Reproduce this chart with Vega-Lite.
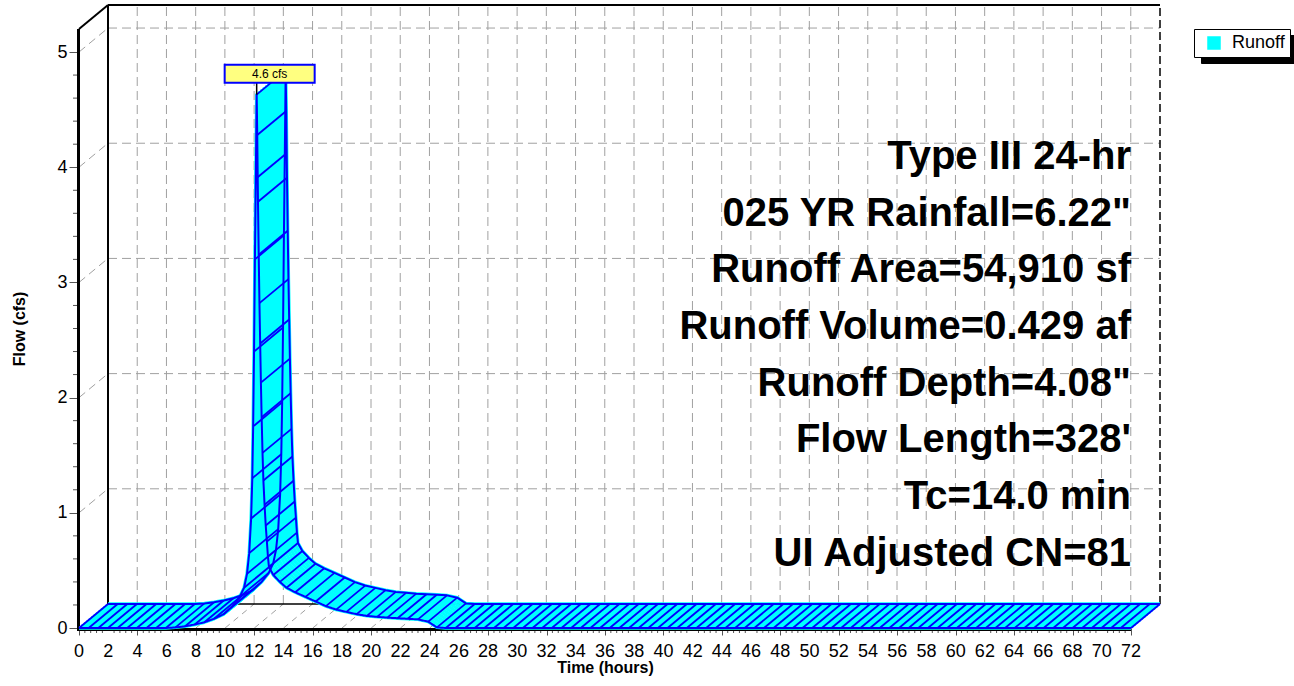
{
  "$schema": "https://vega.github.io/schema/vega-lite/v6.json",
  "width": 1052,
  "height": 599,
  "autosize": "none",
  "padding": {"left": 79, "top": 29, "right": 163, "bottom": 58},
  "background": "white",
  "config": {
    "font": "Liberation Sans",
    "view": {"stroke": null},
    "axis": {"grid": false, "domain": false, "labelColor": "black", "titleColor": "black", "tickColor": "#555555", "labelFlush": false, "titleFontWeight": "bold", "titleFontSize": 16, "labelFont": "Liberation Sans", "titleFont": "Liberation Sans"},
    "axisX": {"tickSize": 7, "titlePadding": 24},
    "axisY": {"labelFontSize": 18, "tickSize": 10, "labelPadding": 2, "titlePadding": 29},
    "legend": {"labelFontSize": 18, "labelColor": "black", "labelFont": "Liberation Sans", "padding": 5, "symbolOffset": 6, "symbolSize": 144, "labelOffset": 9, "symbolType": "square", "symbolStrokeWidth": 1.5}
  },
  "datasets": {
    "flow": [
      {"t":0,"q":0},{"t":0.66,"q":0},{"t":1.32,"q":0},{"t":1.98,"q":0},{"t":2.64,"q":0},{"t":3.3,"q":0},{"t":3.96,"q":0},{"t":4.62,"q":0},{"t":5.28,"q":0},{"t":5.94,"q":0},
      {"t":6.6,"q":0.005},{"t":7.26,"q":0.015},{"t":7.92,"q":0.03},{"t":8.58,"q":0.05},{"t":9.24,"q":0.08},{"t":9.9,"q":0.12},{"t":10.5,"q":0.19},{"t":11.0,"q":0.27},{"t":11.3,"q":0.35},{"t":11.5,"q":0.47},
      {"t":11.65,"q":0.65},{"t":11.78,"q":0.95},{"t":11.86,"q":1.3},{"t":11.92,"q":1.75},{"t":11.98,"q":2.4},{"t":12.04,"q":3.2},{"t":12.1,"q":3.9},{"t":12.16,"q":4.63},
      {"t":12.2,"q":4.28},{"t":12.25,"q":3.7},{"t":12.3,"q":3.24},{"t":12.35,"q":2.82},{"t":12.4,"q":2.47},{"t":12.45,"q":2.13},{"t":12.5,"q":1.83},{"t":12.56,"q":1.52},{"t":12.62,"q":1.28},{"t":12.7,"q":1.07},
      {"t":12.78,"q":0.89},{"t":12.86,"q":0.75},{"t":12.93,"q":0.62},{"t":13.0,"q":0.53},{"t":13.3,"q":0.46},{"t":13.75,"q":0.4},{"t":14.2,"q":0.35},{"t":14.8,"q":0.31},{"t":15.5,"q":0.27},{"t":16.2,"q":0.23},
      {"t":16.9,"q":0.19},{"t":17.6,"q":0.16},{"t":18.3,"q":0.14},{"t":19.0,"q":0.12},{"t":19.7,"q":0.105},{"t":20.4,"q":0.097},{"t":21.1,"q":0.09},{"t":21.8,"q":0.085},{"t":22.5,"q":0.08},{"t":23.2,"q":0.075},
      {"t":23.9,"q":0.055},{"t":24.5,"q":0.005},{"t":25.1,"q":0},{"t":25.76,"q":0},{"t":26.42,"q":0},{"t":27.08,"q":0},{"t":27.74,"q":0},{"t":28.4,"q":0},{"t":29.06,"q":0},{"t":29.72,"q":0},
      {"t":30.38,"q":0},{"t":31.04,"q":0},{"t":31.7,"q":0},{"t":32.36,"q":0},{"t":33.02,"q":0},{"t":33.68,"q":0},{"t":34.34,"q":0},{"t":35.0,"q":0},{"t":35.66,"q":0},{"t":36.32,"q":0},
      {"t":36.98,"q":0},{"t":37.64,"q":0},{"t":38.3,"q":0},{"t":38.96,"q":0},{"t":39.62,"q":0},{"t":40.28,"q":0},{"t":40.94,"q":0},{"t":41.6,"q":0},{"t":42.26,"q":0},{"t":42.92,"q":0},
      {"t":43.58,"q":0},{"t":44.24,"q":0},{"t":44.9,"q":0},{"t":45.56,"q":0},{"t":46.22,"q":0},{"t":46.88,"q":0},{"t":47.54,"q":0},{"t":48.2,"q":0},{"t":48.86,"q":0},{"t":49.52,"q":0},
      {"t":50.18,"q":0},{"t":50.84,"q":0},{"t":51.5,"q":0},{"t":52.16,"q":0},{"t":52.82,"q":0},{"t":53.48,"q":0},{"t":54.14,"q":0},{"t":54.8,"q":0},{"t":55.46,"q":0},{"t":56.12,"q":0},
      {"t":56.78,"q":0},{"t":57.44,"q":0},{"t":58.1,"q":0},{"t":58.76,"q":0},{"t":59.42,"q":0},{"t":60.08,"q":0},{"t":60.74,"q":0},{"t":61.4,"q":0},{"t":62.06,"q":0},{"t":62.72,"q":0},
      {"t":63.38,"q":0},{"t":64.04,"q":0},{"t":64.7,"q":0},{"t":65.36,"q":0},{"t":66.02,"q":0},{"t":66.68,"q":0},{"t":67.34,"q":0},{"t":68.0,"q":0},{"t":68.66,"q":0},{"t":69.32,"q":0},
      {"t":69.98,"q":0},{"t":70.64,"q":0},{"t":71.3,"q":0},{"t":72,"q":0}
    ],
    "xgrid": [{"t":2},{"t":4},{"t":6},{"t":8},{"t":10},{"t":12},{"t":14},{"t":16},{"t":18},{"t":20},{"t":22},{"t":24},{"t":26},{"t":28},{"t":30},{"t":32},{"t":34},{"t":36},{"t":38},{"t":40},{"t":42},{"t":44},{"t":46},{"t":48},{"t":50},{"t":52},{"t":54},{"t":56},{"t":58},{"t":60},{"t":62},{"t":64},{"t":66},{"t":68},{"t":70}],
    "xlabels": [{"t":0},{"t":2},{"t":4},{"t":6},{"t":8},{"t":10},{"t":12},{"t":14},{"t":16},{"t":18},{"t":20},{"t":22},{"t":24},{"t":26},{"t":28},{"t":30},{"t":32},{"t":34},{"t":36},{"t":38},{"t":40},{"t":42},{"t":44},{"t":46},{"t":48},{"t":50},{"t":52},{"t":54},{"t":56},{"t":58},{"t":60},{"t":62},{"t":64},{"t":66},{"t":68},{"t":70},{"t":72}],
    "xminor": [
      {"t":0.4},{"t":0.8},{"t":1.2},{"t":1.6},{"t":2.4},{"t":2.8},{"t":3.2},{"t":3.6},{"t":4.4},{"t":4.8},{"t":5.2},{"t":5.6},{"t":6.4},{"t":6.8},{"t":7.2},{"t":7.6},{"t":8.4},{"t":8.8},{"t":9.2},{"t":9.6},
      {"t":10.4},{"t":10.8},{"t":11.2},{"t":11.6},{"t":12.4},{"t":12.8},{"t":13.2},{"t":13.6},{"t":14.4},{"t":14.8},{"t":15.2},{"t":15.6},{"t":16.4},{"t":16.8},{"t":17.2},{"t":17.6},{"t":18.4},{"t":18.8},{"t":19.2},{"t":19.6},
      {"t":20.4},{"t":20.8},{"t":21.2},{"t":21.6},{"t":22.4},{"t":22.8},{"t":23.2},{"t":23.6},{"t":24.4},{"t":24.8},{"t":25.2},{"t":25.6},{"t":26.4},{"t":26.8},{"t":27.2},{"t":27.6},{"t":28.4},{"t":28.8},{"t":29.2},{"t":29.6},
      {"t":30.4},{"t":30.8},{"t":31.2},{"t":31.6},{"t":32.4},{"t":32.8},{"t":33.2},{"t":33.6},{"t":34.4},{"t":34.8},{"t":35.2},{"t":35.6},{"t":36.4},{"t":36.8},{"t":37.2},{"t":37.6},{"t":38.4},{"t":38.8},{"t":39.2},{"t":39.6},
      {"t":40.4},{"t":40.8},{"t":41.2},{"t":41.6},{"t":42.4},{"t":42.8},{"t":43.2},{"t":43.6},{"t":44.4},{"t":44.8},{"t":45.2},{"t":45.6},{"t":46.4},{"t":46.8},{"t":47.2},{"t":47.6},{"t":48.4},{"t":48.8},{"t":49.2},{"t":49.6},
      {"t":50.4},{"t":50.8},{"t":51.2},{"t":51.6},{"t":52.4},{"t":52.8},{"t":53.2},{"t":53.6},{"t":54.4},{"t":54.8},{"t":55.2},{"t":55.6},{"t":56.4},{"t":56.8},{"t":57.2},{"t":57.6},{"t":58.4},{"t":58.8},{"t":59.2},{"t":59.6},
      {"t":60.4},{"t":60.8},{"t":61.2},{"t":61.6},{"t":62.4},{"t":62.8},{"t":63.2},{"t":63.6},{"t":64.4},{"t":64.8},{"t":65.2},{"t":65.6},{"t":66.4},{"t":66.8},{"t":67.2},{"t":67.6},{"t":68.4},{"t":68.8},{"t":69.2},{"t":69.6},
      {"t":70.4},{"t":70.8},{"t":71.2},{"t":71.6}
    ],
    "yminor": [{"q":0.2},{"q":0.4},{"q":0.6},{"q":0.8},{"q":1.2},{"q":1.4},{"q":1.6},{"q":1.8},{"q":2.2},{"q":2.4},{"q":2.6},{"q":2.8},{"q":3.2},{"q":3.4},{"q":3.6},{"q":3.8},{"q":4.2},{"q":4.4},{"q":4.6},{"q":4.8}],
    "ygrid": [{"q":1},{"q":2},{"q":3},{"q":4},{"q":5}],
    "peak": [{"t":12.16,"q":4.63,"label":"4.6 cfs"}],
    "notes": [
      {"label": "Type III 24-hr\n025 YR Rainfall=6.22\"\nRunoff Area=54,910 sf\nRunoff Volume=0.429 af\nRunoff Depth=4.08\"\nFlow Length=328'\nTc=14.0 min\nUI Adjusted CN=81"}
    ]
  },
  "layer": [
    {
      "data": {"name": "xgrid"},
      "mark": {"type": "rule", "color": "#A0A0A0", "strokeWidth": 1, "strokeDash": [9, 5], "xOffset": 29, "yOffset": -24, "y2Offset": -24},
      "encoding": {
        "x": {"field": "t", "type": "quantitative", "scale": {"domain": [0, 72], "nice": false, "zero": false},
          "axis": {"orient": "bottom", "values": [0,2,4,6,8,10,12,14,16,18,20,22,24,26,28,30,32,34,36,38,40,42,44,46,48,50,52,54,56,58,60,62,64,66,68,70,72], "labels": false, "title": "Time  (hours)"}},
        "y": {"datum": 0, "type": "quantitative", "scale": {"domain": [0, 5.2], "nice": false, "zero": false},
          "axis": {"orient": "left", "values": [0,1,2,3,4,5], "format": "d", "title": "Flow  (cfs)"}},
        "y2": {"datum": 5.2}
      }
    },
    {
      "data": {"name": "ygrid"},
      "mark": {"type": "rule", "color": "#A0A0A0", "strokeWidth": 1, "strokeDash": [9, 5], "xOffset": 29, "x2Offset": 29, "yOffset": -24},
      "encoding": {"x": {"datum": 0, "type": "quantitative"}, "x2": {"datum": 72}, "y": {"field": "q", "type": "quantitative"}}
    },
    {
      "data": {"name": "ygrid"},
      "mark": {"type": "rule", "color": "#A0A0A0", "strokeWidth": 1, "strokeDash": [8, 5], "x2Offset": 29, "y2Offset": -24},
      "encoding": {"x": {"datum": 0, "type": "quantitative"}, "x2": {"datum": 0}, "y": {"field": "q", "type": "quantitative"}, "y2": {"field": "q"}}
    },
    {
      "data": {"name": "xgrid"},
      "mark": {"type": "rule", "color": "#A0A0A0", "strokeWidth": 1, "strokeDash": [6, 5], "x2Offset": 29, "y2Offset": -24},
      "encoding": {"x": {"field": "t", "type": "quantitative"}, "x2": {"field": "t"}, "y": {"datum": 0, "type": "quantitative"}, "y2": {"datum": 0}}
    },
    {
      "data": {"name": "xminor"},
      "mark": {"type": "rule", "color": "#555555", "strokeWidth": 1, "y2Offset": 5},
      "encoding": {"x": {"field": "t", "type": "quantitative"}, "y": {"datum": 0, "type": "quantitative"}, "y2": {"datum": 0}}
    },
    {
      "data": {"name": "yminor"},
      "mark": {"type": "rule", "color": "#555555", "strokeWidth": 1, "x2Offset": -6},
      "encoding": {"x": {"datum": 0, "type": "quantitative"}, "x2": {"datum": 0}, "y": {"field": "q", "type": "quantitative"}}
    },
    {
      "data": {"name": "xlabels"},
      "mark": {"type": "text", "fontSize": 18, "color": "black", "align": "center", "baseline": "alphabetic", "yOffset": 29},
      "encoding": {"x": {"field": "t", "type": "quantitative"}, "y": {"datum": 0, "type": "quantitative"}, "text": {"field": "t", "type": "quantitative", "format": "d"}}
    },
    {
      "data": {"name": "peak"},
      "mark": {"type": "rule", "color": "black", "strokeWidth": 3, "yOffset": 1.5, "y2Offset": 1.5},
      "encoding": {"x": {"datum": 0, "type": "quantitative"}, "x2": {"datum": 72}, "y": {"datum": 0, "type": "quantitative"}}
    },
    {
      "data": {"name": "peak"},
      "mark": {"type": "rule", "color": "black", "strokeWidth": 3, "xOffset": -0.5, "yOffset": 3},
      "encoding": {"x": {"datum": 0, "type": "quantitative"}, "y": {"datum": 0, "type": "quantitative"}, "y2": {"datum": 5.2}}
    },
    {
      "data": {"name": "peak"},
      "mark": {"type": "rule", "color": "black", "strokeWidth": 2, "xOffset": 29, "yOffset": -24, "y2Offset": -24},
      "encoding": {"x": {"datum": 0, "type": "quantitative"}, "y": {"datum": 0, "type": "quantitative"}, "y2": {"datum": 5.2}}
    },
    {
      "data": {"name": "peak"},
      "mark": {"type": "rule", "color": "black", "strokeWidth": 2, "xOffset": 29, "x2Offset": 29, "yOffset": -24},
      "encoding": {"x": {"datum": 0, "type": "quantitative"}, "x2": {"datum": 72}, "y": {"datum": 5.2, "type": "quantitative"}}
    },
    {
      "data": {"name": "peak"},
      "mark": {"type": "rule", "color": "black", "strokeWidth": 1.5, "xOffset": 29, "x2Offset": 29, "yOffset": -24},
      "encoding": {"x": {"datum": 0, "type": "quantitative"}, "x2": {"datum": 72}, "y": {"datum": 0, "type": "quantitative"}}
    },
    {
      "data": {"name": "peak"},
      "mark": {"type": "rule", "color": "black", "strokeWidth": 2, "x2Offset": 29, "y2Offset": -24},
      "encoding": {"x": {"datum": 0, "type": "quantitative"}, "x2": {"datum": 0}, "y": {"datum": 5.2, "type": "quantitative"}, "y2": {"datum": 5.2}}
    },
    {
      "data": {"name": "peak"},
      "mark": {"type": "rule", "color": "black", "strokeWidth": 1.5, "strokeDash": [8, 4], "xOffset": 29, "yOffset": -24, "y2Offset": -24},
      "encoding": {"x": {"datum": 72, "type": "quantitative"}, "y": {"datum": 0, "type": "quantitative"}, "y2": {"datum": 5.2}}
    },
    {
      "data": {"name": "flow"},
      "mark": {"type": "line", "strokeWidth": 3.4, "strokeJoin": "round", "strokeCap": "butt"},
      "encoding": {
        "x": {"field": "t", "type": "quantitative"}, "y": {"field": "q", "type": "quantitative"},
        "color": {"datum": "Runoff", "type": "nominal", "scale": {"range": ["#00FFFF"]},
          "legend": {"orient": "none", "legendX": 1115, "legendY": 0, "title": null, "zindex": 2,
            "strokeColor": "black", "fillColor": "white",
            "encode": {"symbols": {"update": {"fill": {"value": "#00FFFF"}, "stroke": {"value": "#0000FF"}, "strokeWidth": {"value": 1.5}, "shape": {"value": "square"}}}}}}
      }
    },
    {"data": {"name": "flow"}, "mark": {"type": "line", "color": "#00FFFF", "strokeWidth": 3.4, "strokeJoin": "round", "xOffset": 2.42, "yOffset": -2}, "encoding": {"x": {"field": "t", "type": "quantitative"}, "y": {"field": "q", "type": "quantitative"}}},
    {"data": {"name": "flow"}, "mark": {"type": "line", "color": "#00FFFF", "strokeWidth": 3.4, "strokeJoin": "round", "xOffset": 4.83, "yOffset": -4}, "encoding": {"x": {"field": "t", "type": "quantitative"}, "y": {"field": "q", "type": "quantitative"}}},
    {"data": {"name": "flow"}, "mark": {"type": "line", "color": "#00FFFF", "strokeWidth": 3.4, "strokeJoin": "round", "xOffset": 7.25, "yOffset": -6}, "encoding": {"x": {"field": "t", "type": "quantitative"}, "y": {"field": "q", "type": "quantitative"}}},
    {"data": {"name": "flow"}, "mark": {"type": "line", "color": "#00FFFF", "strokeWidth": 3.4, "strokeJoin": "round", "xOffset": 9.67, "yOffset": -8}, "encoding": {"x": {"field": "t", "type": "quantitative"}, "y": {"field": "q", "type": "quantitative"}}},
    {"data": {"name": "flow"}, "mark": {"type": "line", "color": "#00FFFF", "strokeWidth": 3.4, "strokeJoin": "round", "xOffset": 12.08, "yOffset": -10}, "encoding": {"x": {"field": "t", "type": "quantitative"}, "y": {"field": "q", "type": "quantitative"}}},
    {"data": {"name": "flow"}, "mark": {"type": "line", "color": "#00FFFF", "strokeWidth": 3.4, "strokeJoin": "round", "xOffset": 14.5, "yOffset": -12}, "encoding": {"x": {"field": "t", "type": "quantitative"}, "y": {"field": "q", "type": "quantitative"}}},
    {"data": {"name": "flow"}, "mark": {"type": "line", "color": "#00FFFF", "strokeWidth": 3.4, "strokeJoin": "round", "xOffset": 16.92, "yOffset": -14}, "encoding": {"x": {"field": "t", "type": "quantitative"}, "y": {"field": "q", "type": "quantitative"}}},
    {"data": {"name": "flow"}, "mark": {"type": "line", "color": "#00FFFF", "strokeWidth": 3.4, "strokeJoin": "round", "xOffset": 19.33, "yOffset": -16}, "encoding": {"x": {"field": "t", "type": "quantitative"}, "y": {"field": "q", "type": "quantitative"}}},
    {"data": {"name": "flow"}, "mark": {"type": "line", "color": "#00FFFF", "strokeWidth": 3.4, "strokeJoin": "round", "xOffset": 21.75, "yOffset": -18}, "encoding": {"x": {"field": "t", "type": "quantitative"}, "y": {"field": "q", "type": "quantitative"}}},
    {"data": {"name": "flow"}, "mark": {"type": "line", "color": "#00FFFF", "strokeWidth": 3.4, "strokeJoin": "round", "xOffset": 24.17, "yOffset": -20}, "encoding": {"x": {"field": "t", "type": "quantitative"}, "y": {"field": "q", "type": "quantitative"}}},
    {"data": {"name": "flow"}, "mark": {"type": "line", "color": "#00FFFF", "strokeWidth": 3.4, "strokeJoin": "round", "xOffset": 26.58, "yOffset": -22}, "encoding": {"x": {"field": "t", "type": "quantitative"}, "y": {"field": "q", "type": "quantitative"}}},
    {"data": {"name": "flow"}, "mark": {"type": "line", "color": "#00FFFF", "strokeWidth": 3.4, "strokeJoin": "round", "xOffset": 29, "yOffset": -24}, "encoding": {"x": {"field": "t", "type": "quantitative"}, "y": {"field": "q", "type": "quantitative"}}},
    {"data": {"name": "flow"}, "mark": {"type": "line", "color": "#0000FF", "strokeWidth": 2, "strokeJoin": "round", "xOffset": 29, "yOffset": -24}, "encoding": {"x": {"field": "t", "type": "quantitative"}, "y": {"field": "q", "type": "quantitative"}}},
    {
      "data": {"name": "flow"},
      "mark": {"type": "rule", "color": "#0000FF", "strokeWidth": 1.8, "x2Offset": 29, "y2Offset": -24},
      "encoding": {"x": {"field": "t", "type": "quantitative"}, "x2": {"field": "t"}, "y": {"field": "q", "type": "quantitative"}, "y2": {"field": "q"}}
    },
    {
      "data": {"name": "flow"},
      "mark": {"type": "line", "color": "#0000FF", "strokeWidth": 2, "strokeJoin": "round"},
      "encoding": {
        "x": {"field": "t", "type": "quantitative"}, "y": {"field": "q", "type": "quantitative"},
        "strokeDash": {"datum": "Shadow", "type": "nominal", "scale": {"range": [[1, 0]]},
          "legend": {"orient": "none", "legendX": 1122, "legendY": 6, "title": null, "zindex": 1,
            "strokeColor": "black", "fillColor": "black", "labelColor": "black", "labelExpr": "'Runoff'", "symbolOpacity": 0,
            "encode": {"symbols": {"update": {"opacity": {"value": 0}}}}}}
      }
    },
    {
      "data": {"name": "peak"},
      "mark": {"type": "rule", "color": "black", "strokeWidth": 1.5, "y2Offset": -12},
      "encoding": {"x": {"field": "t", "type": "quantitative"}, "y": {"field": "q", "type": "quantitative"}, "y2": {"field": "q"}}
    },
    {
      "data": {"name": "peak"},
      "mark": {"type": "rect", "fill": "#FFFF80", "stroke": "#0000FF", "strokeWidth": 2, "xOffset": -32, "x2Offset": 58, "yOffset": -30, "y2Offset": -12},
      "encoding": {"x": {"field": "t", "type": "quantitative"}, "x2": {"field": "t"}, "y": {"field": "q", "type": "quantitative"}, "y2": {"field": "q"}}
    },
    {
      "data": {"name": "peak"},
      "mark": {"type": "text", "fontSize": 12, "color": "black", "align": "center", "baseline": "middle", "xOffset": 13, "yOffset": -21},
      "encoding": {"x": {"field": "t", "type": "quantitative"}, "y": {"field": "q", "type": "quantitative"}, "text": {"field": "label"}}
    },
    {
      "data": {"name": "notes"},
      "mark": {"type": "text", "align": "right", "baseline": "middle", "fontSize": 40, "fontWeight": "bold", "color": "black", "lineBreak": "\n", "lineHeight": 56.7},
      "encoding": {
        "x": {"datum": 72, "type": "quantitative"},
        "y": {"datum": 4.089, "type": "quantitative"},
        "text": {"field": "label"}
      }
    }
  ]
}
